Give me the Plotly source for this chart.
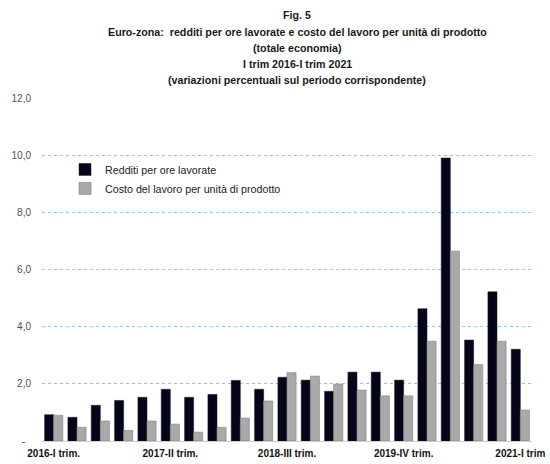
import plotly.graph_objects as go

# Quarterly periods, 2016-Q1 .. 2021-Q1
quarters = [
    "2016-I", "2016-II", "2016-III", "2016-IV",
    "2017-I", "2017-II", "2017-III", "2017-IV",
    "2018-I", "2018-II", "2018-III", "2018-IV",
    "2019-I", "2019-II", "2019-III", "2019-IV",
    "2020-I", "2020-II", "2020-III", "2020-IV",
    "2021-I",
]

# Year-on-year % changes
redditi_ore = [0.92, 0.83, 1.25, 1.42, 1.53, 1.81, 1.53, 1.63, 2.12, 1.81,
               2.23, 2.13, 1.74, 2.41, 2.41, 2.13, 4.63, 9.9, 3.53, 5.22, 3.21]
clup = [0.90, 0.48, 0.70, 0.37, 0.70, 0.59, 0.31, 0.48, 0.80, 1.40,
        2.39, 2.27, 1.99, 1.78, 1.58, 1.58, 3.49, 6.64, 2.67, 3.49, 1.08]

x_tick_vals = ["2016-I", "2017-II", "2018-III", "2019-IV", "2021-I"]
x_tick_text = ["2016-I trim.", "2017-II trim.", "2018-III trim.", "2019-IV trim.", "2021-I trim"]

y_tick_vals = [0, 2, 4, 6, 8, 10, 12]
y_tick_text = ["-\u00a0\u00a0", "2,0", "4,0", "6,0", "8,0", "10,0", "12,0"]

title_lines = [
    "Fig. 5",
    "Euro-zona:  redditi per ore lavorate e costo del lavoro per unità di prodotto",
    "(totale economia)",
    "I trim 2016-I trim 2021",
    "(variazioni percentuali sul periodo corrispondente)",
]
title_y_px = [15, 32, 48, 64, 80]

FONT = "Liberation Sans, Arial, sans-serif"
H = 464
MT, MB, ML, MR = 98, 23, 42, 18

fig = go.Figure()
fig.add_trace(go.Bar(
    x=quarters, y=redditi_ore, name="Redditi per ore lavorate",
    marker=dict(color="#05051a", line=dict(color="#1a1a2e", width=0.5)),
))
fig.add_trace(go.Bar(
    x=quarters, y=clup, name="Costo del lavoro per unità di prodotto",
    marker=dict(color="#a9a9a9", line=dict(color="#808080", width=0.6)),
))

# Title block, one centred bold line each
for line, ypx in zip(title_lines, title_y_px):
    fig.add_annotation(
        text=f"<b>{line}</b>", showarrow=False,
        xref="paper", yref="paper",
        x=(297 - ML) / (550 - ML - MR), xanchor="center",
        y=(H - MB - ypx) / (H - MT - MB), yanchor="middle",
        font=dict(family=FONT, size=10.7, color="#1a1a1a"),
    )

fig.update_layout(
    width=550, height=H,
    margin=dict(l=ML, r=MR, t=MT, b=MB),
    paper_bgcolor="white", plot_bgcolor="white",
    font=dict(family=FONT, size=11, color="#404040"),
    barmode="group", bargap=0.22, bargroupgap=0.0,
    legend=dict(
        x=0.047, xanchor="left", y=0.834, yanchor="top",
        bgcolor="rgba(0,0,0,0)",
        font=dict(family=FONT, size=10.7, color="#222222"),
        itemwidth=30, tracegroupgap=0,
    ),
    xaxis=dict(
        type="category", categoryorder="array", categoryarray=quarters,
        tickvals=x_tick_vals, ticktext=[f"<b>{t}</b>" for t in x_tick_text],
        tickfont=dict(family=FONT, size=10, color="#111111"),
        showgrid=False, showline=False, ticks="", ticklabelstandoff=5,
        automargin=False,
    ),
    yaxis=dict(
        range=[0, 12], tickvals=y_tick_vals, ticktext=y_tick_text,
        showgrid=True, gridcolor="#93c4ea", griddash="dot", gridwidth=1,
        zeroline=True, zerolinecolor="#cfcfcf", zerolinewidth=1,
        ticks="", ticklabelstandoff=10, automargin=False,
        tickfont=dict(family=FONT, size=10, color="#505050"),
    ),
)

fig.write_html("out.html")
